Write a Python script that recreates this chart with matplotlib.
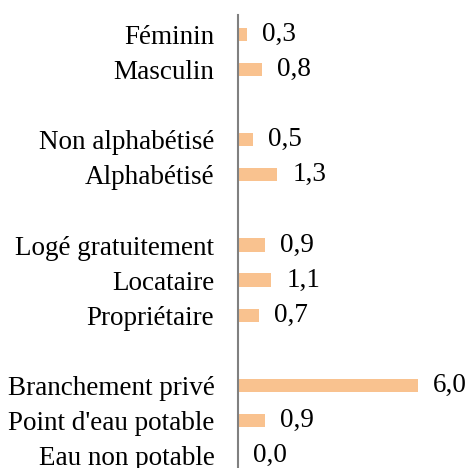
import matplotlib
matplotlib.use("Agg")
import matplotlib.pyplot as plt

plt.rcParams.update({"font.family": "Liberation Serif", "font.size": 19.5})

# categories top to bottom, None = blank gap row
categories = ["Féminin", "Masculin", None,
              "Non alphabétisé", "Alphabétisé", None,
              "Logé gratuitement", "Locataire", "Propriétaire", None,
              "Branchement privé", "Point d'eau potable", "Eau non potable"]
values = [0.3, 0.8, None,
          0.5, 1.3, None,
          0.9, 1.1, 0.7, None,
          6.0, 0.9, 0.0]

BAR = "#F9C28F"

fig = plt.figure(figsize=(4.72, 4.68), dpi=100)
ax = fig.add_axes([238 / 472, 0, 1 - 238 / 472, 1 - 15 / 468])

pos = [i for i, c in enumerate(categories) if c is not None]
labs = [categories[i] for i in pos]
vals = [values[i] for i in pos]

ax.barh(pos, vals, height=0.38, color=BAR)
for p, v in zip(pos, vals):
    ax.annotate(f"{v:.1f}".replace(".", ","), (v, p), xytext=(11, 0),
                textcoords="offset points", ha="left", va="center")

ax.set_yticks(pos)
ax.set_yticklabels(labs)
ax.tick_params(axis="y", length=0, pad=17)
ax.set_xticks([])
ax.set_xlim(0, 7.8)
ax.set_ylim(12.35, -0.55)
for s in ["top", "right", "bottom"]:
    ax.spines[s].set_visible(False)
ax.spines["left"].set_color("#808080")
ax.spines["left"].set_linewidth(1.5)

fig.savefig("out.png", dpi=100)
